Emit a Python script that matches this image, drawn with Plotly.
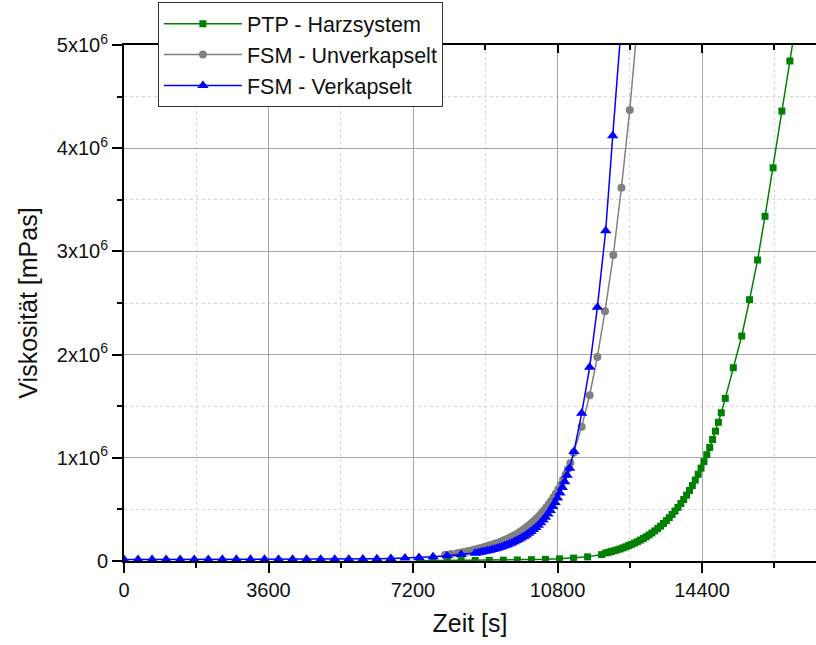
import plotly.graph_objects as go

# ---------------- data (time in s, viscosity in 10^6 mPas) ----------------
ptp_t_low = [7350, 7700, 8050, 8400, 8750, 9100, 9450, 9800, 10150, 10500,
             10850, 11200, 11550, 11900]
ptp_v_low = [0.002, 0.003, 0.003, 0.004, 0.005, 0.006, 0.008, 0.010, 0.013, 0.016,
             0.021, 0.028, 0.040, 0.062]
ptp_t_mid = [12000, 12072, 12144, 12216, 12288, 12360, 12432, 12504, 12576, 12648,
             12720, 12792, 12864, 12936, 13008, 13080, 13152, 13224, 13296, 13368,
             13440, 13512, 13584, 13656, 13728, 13800, 13872, 13944, 14016, 14088,
             14160, 14232, 14304, 14376, 14448, 14520, 14592, 14664, 14736, 14808,
             14880]
ptp_v_mid = [0.078, 0.085, 0.092, 0.100, 0.108, 0.117, 0.127, 0.138, 0.150, 0.161,
             0.174, 0.187, 0.202, 0.218, 0.234, 0.252, 0.271, 0.292, 0.314, 0.338,
             0.364, 0.391, 0.420, 0.451, 0.484, 0.519, 0.556, 0.596, 0.638, 0.683,
             0.731, 0.784, 0.840, 0.900, 0.963, 1.030, 1.100, 1.177, 1.258, 1.344,
             1.436]
ptp_t_high = [14980, 15180, 15390, 15585, 15785, 15970, 16170, 16390, 16590, 16790]
ptp_v_high = [1.576, 1.873, 2.180, 2.532, 2.917, 3.340, 3.810, 4.360, 4.845, 5.350]

unv_t_low = [8000, 8150]
unv_v_low = [0.060, 0.067]
unv_t_mid = [8300, 8360, 8420, 8480, 8540, 8600, 8660, 8720, 8780, 8840,
             8900, 8960, 9020, 9080, 9140, 9200, 9260, 9320, 9380, 9440,
             9500, 9560, 9620, 9680, 9740, 9800, 9860, 9920, 9980, 10040,
             10100, 10160, 10220, 10280, 10340, 10400, 10460, 10520, 10580, 10640,
             10700, 10760, 10820, 10880, 10940, 11000, 11060, 11120]
unv_v_mid = [0.074, 0.078, 0.082, 0.087, 0.092, 0.097, 0.102, 0.108, 0.114, 0.120,
             0.126, 0.133, 0.140, 0.147, 0.154, 0.162, 0.170, 0.178, 0.187, 0.196,
             0.206, 0.216, 0.227, 0.239, 0.252, 0.265, 0.280, 0.296, 0.313, 0.331,
             0.350, 0.370, 0.391, 0.413, 0.437, 0.462, 0.489, 0.518, 0.549, 0.582,
             0.617, 0.655, 0.696, 0.740, 0.787, 0.838, 0.892, 0.950]
unv_t_high = [11200, 11402, 11601, 11793, 11983, 12191, 12392, 12600, 12800]
unv_v_high = [1.050, 1.300, 1.606, 1.977, 2.420, 2.965, 3.617, 4.370, 5.250]

ver_t_low = [0, 350, 700, 1050, 1400, 1750, 2100, 2450, 2800, 3150,
             3500, 3850, 4200, 4550, 4900, 5250, 5600, 5950, 6300, 6650,
             7000, 7350, 7700, 8050, 8400, 8750]
ver_v_low = [0.015, 0.015, 0.015, 0.015, 0.015, 0.015, 0.015, 0.016, 0.016, 0.016,
             0.016, 0.016, 0.017, 0.017, 0.017, 0.018, 0.018, 0.019, 0.021, 0.024,
             0.028, 0.033, 0.040, 0.050, 0.062, 0.076]
ver_t_mid = [8820, 8880, 8940, 9000, 9060, 9120, 9180, 9240, 9300, 9360,
             9420, 9480, 9540, 9600, 9660, 9720, 9780, 9840, 9900, 9960,
             10020, 10080, 10140, 10200, 10260, 10320, 10380, 10440, 10500, 10560,
             10620, 10680, 10740, 10800, 10860, 10920, 10980, 11040, 11100]
ver_v_mid = [0.080, 0.084, 0.089, 0.094, 0.099, 0.105, 0.111, 0.117, 0.124, 0.131,
             0.139, 0.147, 0.156, 0.165, 0.175, 0.186, 0.198, 0.210, 0.223, 0.237,
             0.252, 0.268, 0.286, 0.305, 0.325, 0.347, 0.371, 0.397, 0.425, 0.456,
             0.490, 0.527, 0.567, 0.611, 0.659, 0.711, 0.768, 0.830, 0.898]
ver_t_high = [11210, 11402, 11601, 11793, 12000, 12176, 12376]
ver_v_high = [1.060, 1.431, 1.877, 2.458, 3.200, 4.120, 5.130]

series_names = ["PTP - Harzsystem", "FSM - Unverkapselt", "FSM - Verkapselt"]
series_colors = ["#008000", "#808080", "#0000ff"]

x_ticks = [0, 3600, 7200, 10800, 14400]
x_ticktext = ["0", "3600", "7200", "10800", "14400"]
y_tickvals = [0, 1e6, 2e6, 3e6, 4e6, 5e6]
y_ticktext = ["0", "1x10<sup>6</sup>", "2x10<sup>6</sup>", "3x10<sup>6</sup>",
              "4x10<sup>6</sup>", "5x10<sup>6</sup>"]

MIO = 1e6
FONT = "Liberation Sans, Arial, sans-serif"

fig = go.Figure()

fig.add_trace(go.Scatter(
    x=ptp_t_low + ptp_t_mid + ptp_t_high,
    y=[v * MIO for v in ptp_v_low + ptp_v_mid + ptp_v_high],
    mode="lines+markers", name=series_names[0],
    line=dict(color=series_colors[0], width=1.5),
    marker=dict(symbol="square", size=7, color=series_colors[0])))

fig.add_trace(go.Scatter(
    x=unv_t_low + unv_t_mid + unv_t_high,
    y=[v * MIO for v in unv_v_low + unv_v_mid + unv_v_high],
    mode="lines+markers", name=series_names[1],
    line=dict(color=series_colors[1], width=1.5),
    marker=dict(symbol="circle", size=8, color=series_colors[1])))

fig.add_trace(go.Scatter(
    x=ver_t_low + ver_t_mid + ver_t_high,
    y=[v * MIO for v in ver_v_low + ver_v_mid + ver_v_high],
    mode="lines+markers", name=series_names[2],
    line=dict(color=series_colors[2], width=1.5),
    marker=dict(symbol="triangle-up", size=10, color=series_colors[2])))

# helper trace for top axis ticks
fig.add_trace(go.Scatter(x=[0], y=[0], xaxis="x2", mode="markers",
                         marker=dict(size=0.1, opacity=0), showlegend=False,
                         hoverinfo="skip"))

XMAX = 17240

fig.update_layout(
    width=816, height=645,
    margin=dict(l=124, r=0, t=45, b=84, autoexpand=False),
    paper_bgcolor="white", plot_bgcolor="white",
    font=dict(family=FONT, size=20, color="#111111"),
    showlegend=True,
    legend=dict(x=0.049, y=1.083, xanchor="left", yanchor="top",
                bgcolor="white", bordercolor="#333333", borderwidth=1,
                font=dict(family=FONT, size=21.5, color="#111111"),
                itemwidth=78, tracegroupgap=0),
    xaxis=dict(
        range=[0, XMAX], tickmode="array", tickvals=x_ticks, ticktext=x_ticktext,
        ticks="outside", ticklen=10, tickwidth=2, tickcolor="black",
        showline=True, linecolor="black", linewidth=2,
        showgrid=True, gridcolor="#a6a6a6", gridwidth=1,
        zeroline=False,
        tickfont=dict(family=FONT, size=20, color="#111111"),
        title=dict(text="Zeit [s]", font=dict(family=FONT, size=25, color="#111111"),
                   standoff=14),
        minor=dict(tickmode="linear", tick0=0, dtick=1800, ticks="outside", ticklen=5,
                   tickwidth=2, tickcolor="black", showgrid=True,
                   gridcolor="#d6d6d6", gridwidth=1, griddash="dot"),
    ),
    xaxis2=dict(
        range=[0, XMAX], overlaying="x", side="top", anchor="y",
        tickmode="array", tickvals=x_ticks, showticklabels=False,
        ticks="inside", ticklen=8, tickwidth=2, tickcolor="black",
        showline=True, linecolor="black", linewidth=2, showgrid=False, zeroline=False,
        minor=dict(tickmode="linear", tick0=0, dtick=1800, ticks="inside", ticklen=5,
                   tickwidth=2, tickcolor="black", showgrid=False),
    ),
    yaxis=dict(
        range=[0, 5e6], tickmode="array", tickvals=y_tickvals, ticktext=y_ticktext,
        ticks="outside", ticklen=10, tickwidth=2, tickcolor="black",
        showline=True, linecolor="black", linewidth=2,
        showgrid=True, gridcolor="#a6a6a6", gridwidth=1,
        zeroline=False,
        tickfont=dict(family=FONT, size=20, color="#111111"),
        title=dict(text="Viskosität [mPas]", font=dict(family=FONT, size=25, color="#111111"),
                   standoff=12),
        minor=dict(tickmode="linear", tick0=0, dtick=5e5, ticks="outside", ticklen=5,
                   tickwidth=2, tickcolor="black", showgrid=True,
                   gridcolor="#d6d6d6", gridwidth=1, griddash="dot"),
    ),
)

fig.write_html("out.html")
